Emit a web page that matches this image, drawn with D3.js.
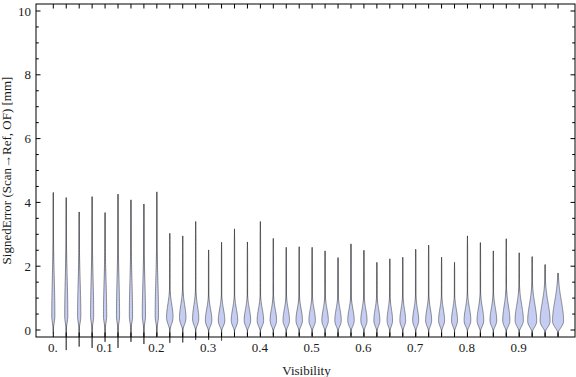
<!DOCTYPE html>
<html><head><meta charset="utf-8">
<script src="https://cdn.jsdelivr.net/npm/d3@7/dist/d3.min.js"></script>
<style>body{margin:0;background:#fff}svg{display:block}</style>
</head><body><svg id="c" width="576" height="377"></svg>
<script>
// ---- data ----
const visibility = [0,0.025,0.05,0.075,0.1,0.125,0.15,0.175,0.2,0.225,0.25,0.275,0.3,0.325,0.35,0.375,0.4,0.425,0.45,0.475,0.5,0.525,0.55,0.575,0.6,0.625,0.65,0.675,0.7,0.725,0.75,0.775,0.8,0.825,0.85,0.875,0.9,0.925,0.95,0.975];
const maxVals = [4.31,4.15,3.70,4.18,3.68,4.26,4.08,3.95,4.33,3.03,2.95,3.40,2.51,2.75,3.17,2.76,3.40,2.87,2.59,2.61,2.59,2.48,2.27,2.70,2.50,2.12,2.23,2.28,2.53,2.66,2.28,2.12,2.95,2.74,2.48,2.86,2.42,2.30,2.05,1.78];
const minVals = [-0.10,-0.63,-0.52,-0.56,-0.37,-0.56,-0.37,-0.44,-0.21,-0.40,-0.39,-0.31,-0.31,-0.33,-0.18,-0.18,-0.18,-0.17,-0.20,-0.18,-0.19,-0.18,-0.20,-0.18,-0.19,-0.20,-0.20,-0.19,-0.20,-0.20,-0.19,-0.20,-0.20,-0.20,-0.19,-0.20,-0.20,-0.20,-0.20,-0.20];
const modeVals = [0.45,0.45,0.45,0.45,0.45,0.45,0.45,0.45,0.45,0.40,0.38,0.35,0.30,0.30,0.30,0.30,0.30,0.30,0.30,0.30,0.30,0.30,0.30,0.30,0.30,0.30,0.30,0.30,0.30,0.30,0.30,0.30,0.30,0.30,0.30,0.30,0.30,0.28,0.28,0.28];
const peakDensity = [0.26,0.26,0.27,0.26,0.27,0.26,0.27,0.27,0.28,0.54,0.54,0.52,0.54,0.54,0.54,0.54,0.54,0.54,0.54,0.54,0.54,0.54,0.54,0.54,0.52,0.50,0.46,0.48,0.50,0.50,0.50,0.50,0.56,0.56,0.56,0.60,0.69,0.75,0.83,0.92];
const upperSpread = [1.20,1.20,1.10,1.20,1.10,1.20,1.15,1.10,1.15,0.40,0.40,0.40,0.35,0.35,0.35,0.35,0.35,0.35,0.35,0.35,0.35,0.35,0.35,0.35,0.35,0.35,0.35,0.35,0.35,0.35,0.35,0.35,0.38,0.38,0.38,0.45,0.48,0.52,0.56,0.62];
const lowerSpread = [0.45,0.45,0.45,0.45,0.45,0.45,0.45,0.45,0.45,0.42,0.40,0.38,0.35,0.35,0.35,0.35,0.35,0.35,0.35,0.35,0.35,0.35,0.35,0.35,0.35,0.35,0.35,0.35,0.35,0.35,0.35,0.35,0.35,0.35,0.35,0.36,0.36,0.36,0.36,0.38];
const xTickVals = [0,0.1,0.2,0.3,0.4,0.5,0.6,0.7,0.8,0.9];
const xTickLabels = ["0.","0.1","0.2","0.3","0.4","0.5","0.6","0.7","0.8","0.9"];
const yTickVals = [0,2,4,6,8,10];
const yTickLabels = ["0","2","4","6","8","10"];
const xTitle = "Visibility";
const yTitle = "SignedError (Scan\u2192Ref, OF) [mm]";

// ---- layout ----
const FONT = "'Liberation Serif', Tinos, 'Times New Roman', Times, serif";
const svg = d3.select("#c");
const F = {l:36, r:575, t:4, b:337};
const x = d3.scaleLinear().domain([0,1]).range([53.3, 571]);
const y = d3.scaleLinear().domain([0,10]).range([330, 11]);
const w = d3.scaleLinear().domain([0,1]).range([0,6]); // density -> half width px

// violins
const g = svg.append("g");
visibility.forEach((v,i)=>{
  const lo = minVals[i], hi = maxVals[i], m = modeVals[i], pk = peakDensity[i];
  const su = upperSpread[i], sl = lowerSpread[i];
  const bottom = m - sl;
  const n = 90;
  const pts = d3.range(n+1).map(j=>{
    const val = lo + (hi-lo)*j/n;
    let d;
    if (val < m) {
      const t = Math.max(0,(val-bottom)/sl);
      d = pk * (t<=0?0:Math.pow(Math.sin(Math.min(1,t)*Math.PI/2),1.6));
    } else {
      d = pk * Math.exp(-0.5*Math.pow((val-m)/su,2));
    }
    const edge = Math.min((val-lo)/(hi-lo),(hi-val)/(hi-lo));
    const tail = 0.035*Math.min(1, edge*8);
    return {val, d: Math.max(d, tail)};
  });
  const cx = x(v);
  g.append("line").attr("x1",cx).attr("x2",cx).attr("y1",y(lo)).attr("y2",y(hi))
    .attr("stroke","#6a6a6a").attr("stroke-width",1);
  const area = d3.area().x0(p=>cx-w(p.d)).x1(p=>cx+w(p.d)).y(p=>y(p.val)).curve(d3.curveLinear);
  g.append("path").attr("d",area(pts)).attr("fill","#c6cdf2")
    .attr("stroke","#3c3c3c").attr("stroke-width",0.65).attr("stroke-opacity",0.85);
});

// frame
svg.append("rect").attr("x",F.l).attr("y",F.t).attr("width",F.r-F.l).attr("height",F.b-F.t)
  .attr("fill","none").attr("stroke","#000").attr("stroke-width",1);

// ticks
const tk = svg.append("g").attr("stroke","#000").attr("stroke-width",1);
visibility.forEach(v=>{
  const px = x(v);
  tk.append("line").attr("x1",px).attr("x2",px).attr("y1",F.b).attr("y2",F.b-4.5);
  tk.append("line").attr("x1",px).attr("x2",px).attr("y1",F.t).attr("y2",F.t+4.5);
});
d3.range(0,10.01,0.5).forEach(v=>{
  const major = Math.abs(v/2 - Math.round(v/2))<1e-6;
  const len = major?4.5:2.8;
  const py = y(v);
  tk.append("line").attr("x1",F.l).attr("x2",F.l+len).attr("y1",py).attr("y2",py);
  tk.append("line").attr("x1",F.r).attr("x2",F.r-len).attr("y1",py).attr("y2",py);
});

// tick labels
const txt = svg.append("g").attr("font-family",FONT).attr("fill","#1a1a1a").attr("font-size",13);
xTickVals.forEach((v,i)=>{
  txt.append("text").attr("x",x(v)-0.5).attr("y",352).attr("text-anchor","middle").text(xTickLabels[i]);
});
yTickVals.forEach((v,i)=>{
  txt.append("text").attr("x",31).attr("y",y(v)+4.5).attr("text-anchor","end").text(yTickLabels[i]);
});

// titles
txt.append("text").attr("x",(F.l+F.r)/2+1).attr("y",375).attr("text-anchor","middle").text(xTitle);
txt.append("text").attr("transform",`translate(11,${(F.t+F.b)/2}) rotate(-90)`)
  .attr("text-anchor","middle").text(yTitle);
</script></body></html>
